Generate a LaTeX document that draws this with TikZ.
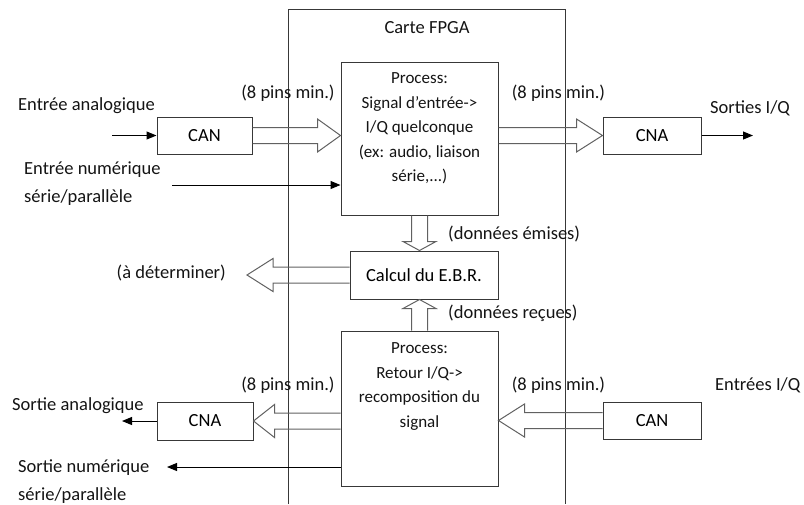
\documentclass[tikz,border=0pt]{standalone}
\usepackage{fontspec}
\setmainfont{Carlito}
\usetikzlibrary{calc,arrows.meta}
\definecolor{boxc}{gray}{0.22}
\definecolor{fatc}{gray}{0.38}
\newcommand\lblfont{\fontsize{18.5}{28}\selectfont}
\newcommand\procfont{\fontsize{17}{24.5}\selectfont}
% hollow (block) arrow from #1 to #2, head length #3
\newcommand\fatarrow[3]{%
  \draw[fatline] let \p1=(#1), \p2=(#2),
    \n1={atan2(\y2-\y1,\x2-\x1)}, \n2={veclen(\x2-\x1,\y2-\y1)} in
    [shift={(\p1)}, rotate=\n1]
    (0pt,8pt) -- (\n2-#3,8pt) -- (\n2-#3,16.5pt) -- (\n2,0pt)
    -- (\n2-#3,-16.5pt) -- (\n2-#3,-8pt) -- (0pt,-8pt);}
\begin{document}
\begin{tikzpicture}[x=1pt,y=-1pt,
  blk/.style={draw=boxc, line width=1pt, inner sep=0pt, font=\lblfont},
  lbl/.style={inner sep=0pt, font=\lblfont, text=black!92},
  ptxt/.style={inner sep=0pt, align=center, font=\procfont, text=black!92},
  fatline/.style={draw=fatc, line width=1pt, line join=miter},
  thin/.style={draw=black, line width=1pt, -{Triangle[length=10pt,width=8pt]}},
  frame/.style={draw=boxc, line width=1pt}]
\useasboundingbox (0,0) rectangle (804,504);

% FPGA card
\draw[frame] (288,504) -- (288,9) -- (565,9) -- (565,504);
\node[lbl] (fpga) at (427,28) {Carte FPGA};

% blocks
\node[blk, minimum width=157pt, minimum height=153pt] (proc1) at (419.5,138.5) {};
\node[ptxt] (proc1t) at (419.5,128.5) {Process:\\Signal d'entrée->\\I/Q quelconque\\(ex: audio, liaison\\série,...)};
\node[blk, minimum width=157pt, minimum height=155pt] (proc2) at (419.5,408.5) {};
\node[ptxt] (proc2t) at (419.5,386.5) {Process:\\Retour I/Q->\\recomposition du\\signal};
\node[blk, minimum width=95pt, minimum height=37pt] (can1) at (204.5,135.5) {CAN};
\node[blk, minimum width=98pt, minimum height=37pt] (cna1) at (652,135.5) {CNA};
\node[blk, minimum width=148pt, minimum height=48pt] (ebr) at (424,275) {Calcul du E.B.R.};
\node[blk, minimum width=96pt, minimum height=38pt] (cna2) at (205,421) {CNA};
\node[blk, minimum width=98pt, minimum height=37pt] (can2) at (652,420.5) {CAN};

% free ends
\coordinate (inA) at (112,135.5);
\coordinate (inN) at (172,185);
\coordinate (outQ) at (753,135.5);
\coordinate (outA) at (122,421);
\coordinate (outN) at (167,467);
\coordinate (det) at (247,275);

% thin arrows
\draw[thin] (inA) -- (can1.west);
\draw[thin] (inN) -- (inN -| proc1.west);
\draw[thin] (cna1.east) -- (outQ);
\draw[thin] (cna2.west) -- (outA);
\draw[thin] (outN -| proc2.west) -- (outN);

% hollow arrows
\fatarrow{can1.east}{can1.east -| proc1.west}{23pt}
\fatarrow{proc1.east |- cna1.west}{cna1.west}{26pt}
\fatarrow{proc1.south}{proc1.south |- ebr.north}{9pt}
\fatarrow{ebr.west}{det}{26pt}
\fatarrow{proc2.north}{proc2.north |- ebr.south}{9pt}
\fatarrow{can2.west}{can2.west -| proc2.east}{26pt}
\fatarrow{proc2.west |- cna2.east}{cna2.east}{21pt}

% labels
\node[lbl, anchor=west] (l1) at (18,106) {Entrée analogique};
\node[lbl, anchor=west, align=left] (l2) at (24,183.5) {Entrée numérique\\série/parallèle};
\node[lbl] (p1) at (288,93) {(8 pins min.)};
\node[lbl] (p2) at (558.5,93) {(8 pins min.)};
\node[lbl] (p3) at (288,385) {(8 pins min.)};
\node[lbl] (p4) at (558.5,385) {(8 pins min.)};
\node[lbl] (l3) at (750,108) {Sorties I/Q};
\node[lbl, anchor=west] (l4) at (448,234) {(données émises)};
\node[lbl, anchor=west] (l5) at (448,313) {(données reçues)};
\node[lbl, anchor=east] (l6) at (226,273) {(à déterminer)};
\node[lbl, anchor=west] (l7) at (715,385) {Entrées I/Q};
\node[lbl, anchor=west] (l8) at (12,406) {Sortie analogique};
\node[lbl, anchor=west, align=left] (l9) at (18,481.5) {Sortie numérique\\série/parallèle};
\end{tikzpicture}
\end{document}
